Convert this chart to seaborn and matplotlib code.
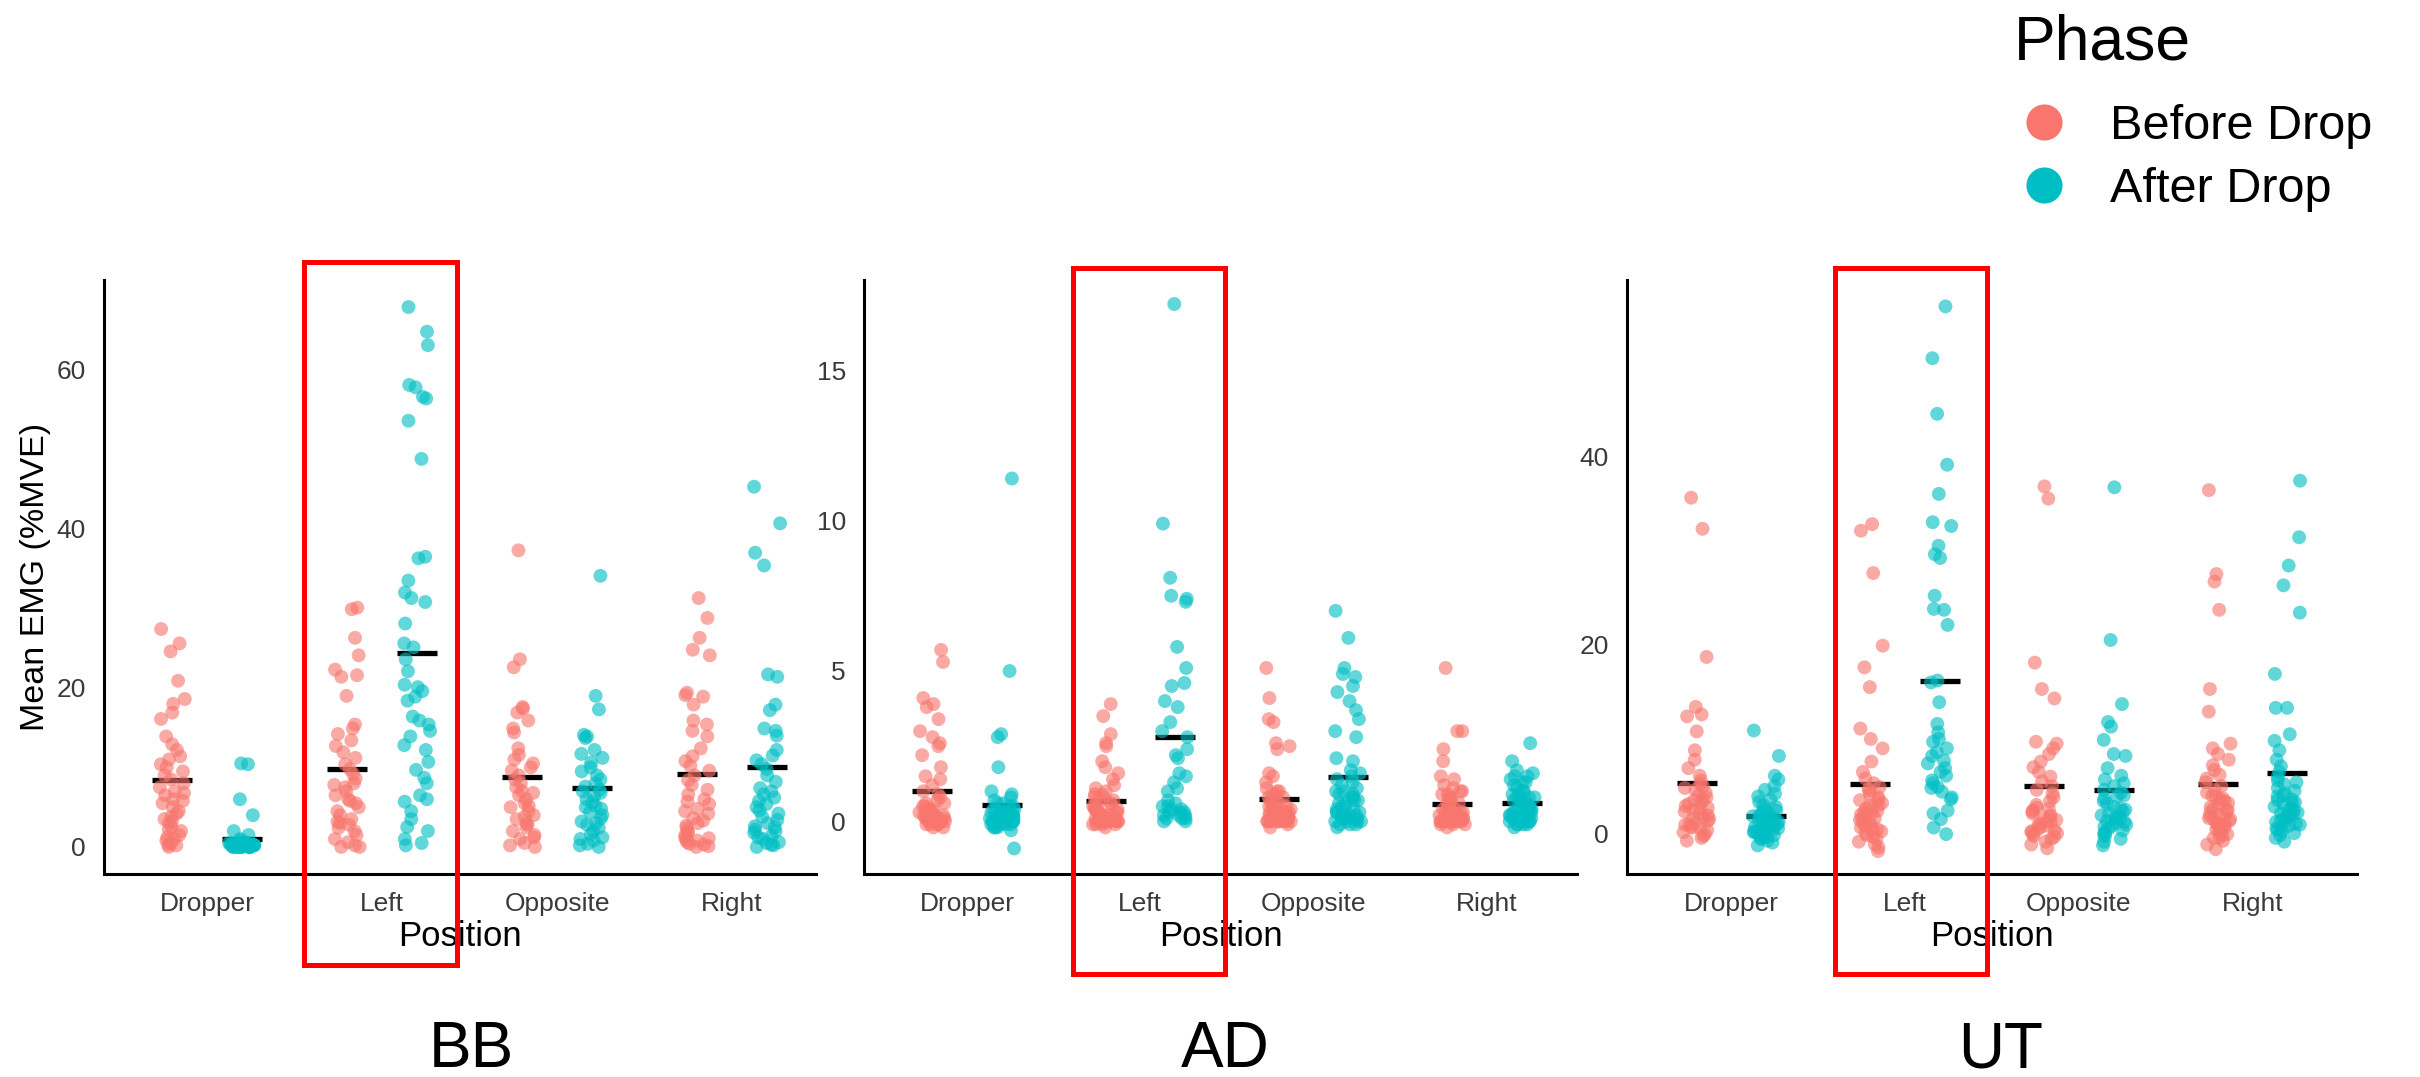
"""EMG strip plots per muscle, before / after the drop."""
import numpy as np
import pandas as pd
import seaborn as sns
import matplotlib.pyplot as plt
from matplotlib.lines import Line2D
from matplotlib.patches import Rectangle

POSITIONS = ["Dropper", "Left", "Opposite", "Right"]
PHASES = ["Before Drop", "After Drop"]
MUSCLES = ["BB", "AD", "UT"]
PHASE_COLORS = {"Before Drop": "#F8766D", "After Drop": "#00BFC4"}

# ---- BB ----
BB_DROPPER_BEFORE = [27.4, 25.6, 24.6, 20.9, 18.6, 18.0, 16.9, 16.1, 13.9, 12.9, 12.2, 11.4, 11.0, 10.4, 10.0,
                     9.5, 9.0, 8.5, 8.0, 7.5, 7.0, 6.8, 6.5, 6.0, 5.8, 5.5, 5.0, 4.5, 4.2, 3.8, 3.5, 3.2,
                     3.0, 2.5, 2.2, 2.0, 1.5, 1.2, 1.0, 0.8, 0.5, 0.3, 0.2, 0.0]
BB_DROPPER_AFTER = [10.5, 10.4, 6.0, 4.0, 2.0, 1.5, 1.0, 0.8, 0.6, 0.5, 0.45, 0.5, 0.4, 0.35, 0.4, 0.3, 0.25,
                    0.3, 0.3, 0.35, 0.2, 0.15, 0.2, 0.25, 0.2, 0.2, 0.1, 0.05, 0.1, 0.15, 0.1, 0.1, 0.12,
                    0.08, 0.0, 0.02, -0.02, 0.0, 0.03, -0.05, 0.0, 0.05, -0.03, 0.0]
BB_LEFT_BEFORE = [30.1, 29.9, 26.3, 24.1, 22.3, 21.6, 21.4, 19.0, 15.4, 14.9, 14.2, 13.4, 12.7, 11.9, 11.2,
                  10.4, 9.8, 9.2, 8.6, 8.0, 7.8, 7.5, 7.0, 6.5, 6.0, 5.8, 5.5, 5.0, 4.5, 4.0, 3.5, 3.2,
                  3.0, 2.8, 2.4, 2.0, 1.5, 1.0, 0.6, 0.2, 0.0, 0.0]
BB_LEFT_AFTER = [67.9, 64.8, 63.1, 58.1, 57.8, 56.6, 56.4, 53.6, 48.8, 36.5, 36.3, 33.5, 32.0, 31.3, 30.8,
                 28.1, 25.6, 25.1, 23.6, 22.1, 20.4, 20.1, 19.6, 18.9, 18.4, 16.4, 15.9, 15.4, 14.6, 13.9,
                 12.8, 12.2, 10.7, 9.7, 8.7, 8.0, 6.5, 6.0, 5.7, 4.5, 3.5, 2.5, 2.0, 1.0, 0.5, 0.2]
BB_OPPOSITE_BEFORE = [37.3, 23.6, 22.6, 17.6, 17.4, 16.9, 15.9, 14.9, 14.4, 12.4, 11.6, 11.0, 10.5, 10.0,
                      9.6, 9.0, 8.5, 8.0, 7.5, 7.0, 6.8, 6.5, 6.0, 5.5, 5.2, 5.0, 4.5, 4.0, 3.8, 3.5, 3.0,
                      2.8, 2.5, 2.0, 1.5, 1.2, 1.0, 0.5, 0.2, 0.0]
BB_OPPOSITE_AFTER = [34.1, 19.0, 17.3, 14.1, 13.9, 13.7, 12.2, 11.7, 11.2, 10.6, 10.0, 9.5, 9.0, 8.5, 8.0,
                     7.6, 7.2, 7.0, 6.8, 6.4, 6.0, 5.6, 5.2, 5.0, 4.8, 4.4, 4.0, 3.6, 3.2, 3.0, 2.8, 2.4,
                     2.0, 1.6, 1.2, 1.0, 0.8, 0.4, 0.2, 0.0]
BB_RIGHT_BEFORE = [31.3, 28.8, 26.3, 24.8, 24.1, 19.4, 19.1, 18.9, 17.9, 15.9, 15.4, 14.6, 13.9, 12.4, 11.4,
                   10.8, 10.2, 9.6, 9.0, 8.4, 7.8, 7.2, 6.6, 6.0, 5.7, 5.4, 4.8, 4.5, 4.2, 3.6, 3.3, 3.0,
                   2.7, 2.4, 2.0, 1.8, 1.5, 1.2, 1.1, 0.9, 0.8, 0.6, 0.4, 0.3, 0.1, 0.0]
BB_RIGHT_AFTER = [45.3, 40.7, 37.0, 35.4, 21.7, 21.4, 17.9, 17.2, 14.9, 14.6, 14.0, 12.2, 11.5, 10.9, 10.4,
                  9.8, 9.0, 8.2, 7.4, 7.0, 6.6, 6.2, 5.8, 5.4, 5.0, 4.6, 4.2, 3.8, 3.4, 3.0, 2.6, 2.5, 2.2,
                  2.0, 1.8, 1.4, 1.2, 1.0, 0.6, 0.5, 0.3, 0.2, 0.0]

# ---- AD ----
AD_DROPPER_BEFORE = [5.7, 5.3, 4.1, 3.9, 3.8, 3.4, 3.0, 2.8, 2.6, 2.5, 2.2, 1.8, 1.5, 1.4, 1.2, 1.0, 0.9, 0.8,
                     0.7, 0.6, 0.6, 0.5, 0.5, 0.4, 0.4, 0.4, 0.3, 0.3, 0.3, 0.3, 0.2, 0.2, 0.2, 0.2, 0.2,
                     0.1, 0.1, 0.1, 0.1, 0.1, 0.0, 0.0, 0.0, 0.0, 0.0, 0.0, -0.1, -0.1, -0.1, -0.1, -0.2,
                     -0.2, 0.1, 0.2]
AD_DROPPER_AFTER = [11.4, 5.0, 2.9, 2.8, 1.8, -0.9, 1.0, 0.9, 0.8, 0.7, 0.6, 0.6, 0.5, 0.5, 0.4, 0.4, 0.4,
                    0.3, 0.3, 0.3, 0.3, 0.2, 0.2, 0.2, 0.2, 0.2, 0.1, 0.1, 0.1, 0.1, 0.1, 0.1, 0.0, 0.0,
                    0.0, 0.0, 0.0, 0.0, 0.0, 0.0, 0.0, 0.0, 0.0, 0.0, 0.0, 0.0, -0.1, -0.1, -0.1, -0.1,
                    -0.1, -0.1, -0.2, -0.2, -0.2, -0.3]
AD_LEFT_BEFORE = [3.9, 3.5, 2.9, 2.6, 2.5, 2.0, 1.8, 1.6, 1.4, 1.2, 1.1, 1.0, 0.9, 0.9, 0.8, 0.8, 0.7, 0.7,
                  0.6, 0.6, 0.5, 0.5, 0.5, 0.4, 0.4, 0.4, 0.3, 0.3, 0.3, 0.3, 0.2, 0.2, 0.2, 0.2, 0.1, 0.1,
                  0.1, 0.1, 0.1, 0.0, 0.0, 0.0, 0.0, 0.0, 0.0, 0.0, 0.0, 0.0, 0.0, -0.1, -0.1, -0.1, -0.1,
                  -0.2]
AD_LEFT_AFTER = [17.2, 9.9, 8.1, 7.5, 7.4, 7.3, 5.8, 5.1, 4.6, 4.5, 4.0, 3.8, 3.3, 3.0, 2.8, 2.4, 2.2, 2.1,
                 1.6, 1.5, 1.3, 1.1, 1.0, 0.7, 0.6, 0.5, 0.5, 0.4, 0.4, 0.3, 0.3, 0.3, 0.2, 0.2, 0.2, 0.1,
                 0.1, 0.0, 0.0, 0.1]
AD_OPPOSITE_BEFORE = [5.1, 4.1, 3.4, 3.3, 2.6, 2.5, 2.4, 1.6, 1.5, 1.3, 1.1, 1.0, 1.0, 0.9, 0.9, 0.8, 0.8,
                      0.7, 0.7, 0.6, 0.6, 0.5, 0.5, 0.5, 0.4, 0.4, 0.4, 0.3, 0.3, 0.3, 0.3, 0.2, 0.2, 0.2,
                      0.2, 0.2, 0.2, 0.1, 0.1, 0.1, 0.1, 0.1, 0.1, 0.1, 0.1, 0.0, 0.0, 0.0, 0.0, 0.0, 0.0,
                      0.0, 0.0, 0.0, 0.0, -0.1, -0.2]
AD_OPPOSITE_AFTER = [7.0, 6.1, 5.1, 4.9, 4.8, 4.5, 4.3, 4.0, 3.7, 3.4, 3.0, 2.8, 2.1, 2.0, 1.7, 1.6, 1.5,
                     1.4, 1.3, 1.2, 1.1, 1.0, 1.0, 0.9, 0.9, 0.8, 0.8, 0.7, 0.7, 0.6, 0.6, 0.5, 0.5, 0.4,
                     0.4, 0.3, 0.3, 0.3, 0.2, 0.2, 0.2, 0.1, 0.1, 0.1, 0.0, 0.0, 0.0, 0.0, -0.1, -0.1,
                     -0.1, -0.2, 0.1, 0.2]
AD_RIGHT_BEFORE = [5.1, 3.0, 3.0, 2.4, 2.0, 1.5, 1.4, 1.2, 1.1, 1.0, 1.0, 0.9, 0.9, 0.8, 0.8, 0.7, 0.7, 0.6,
                   0.6, 0.5, 0.5, 0.4, 0.4, 0.4, 0.3, 0.3, 0.3, 0.2, 0.2, 0.2, 0.2, 0.2, 0.1, 0.1, 0.1,
                   0.1, 0.1, 0.1, 0.1, 0.1, 0.0, 0.0, 0.0, 0.0, 0.0, 0.0, 0.0, 0.0, 0.0, 0.0, 0.0, 0.0,
                   -0.1, -0.1, -0.1, -0.2]
AD_RIGHT_AFTER = [2.6, 2.0, 1.7, 1.6, 1.5, 1.5, 1.4, 1.3, 1.3, 1.2, 1.1, 1.0, 1.0, 0.9, 0.9, 0.8, 0.8, 0.8,
                  0.7, 0.7, 0.6, 0.6, 0.6, 0.5, 0.5, 0.5, 0.4, 0.4, 0.4, 0.3, 0.3, 0.3, 0.3, 0.2, 0.2, 0.2,
                  0.2, 0.1, 0.1, 0.1, 0.1, 0.0, 0.0, 0.0, 0.0, -0.1, -0.1, -0.1, 0.1, 0.2, 0.3, -0.1, -0.2]

# ---- UT ----
UT_DROPPER_BEFORE = [35.6, 32.3, 18.7, 13.4, 12.6, 12.4, 10.8, 8.8, 7.8, 6.9, 6.1, 5.6, 5.2, 5.0, 4.6, 4.3,
                     4.0, 3.8, 3.5, 3.3, 3.1, 2.9, 2.7, 2.5, 2.3, 2.1, 1.9, 1.7, 1.5, 1.3, 1.1, 1.0, 0.9,
                     0.7, 0.5, 0.3, 0.1, -0.1, -0.3, -0.5, -0.8, 4.8, 3.6, 2.6, 1.6, 0.6]
UT_DROPPER_AFTER = [10.9, 8.2, 6.1, 5.7, 5.0, 4.6, 4.2, 3.9, 3.6, 3.3, 3.0, 2.8, 2.6, 2.4, 2.2, 2.0, 1.9,
                    1.8, 1.6, 1.5, 1.4, 1.3, 1.2, 1.1, 1.0, 0.9, 0.8, 0.7, 0.6, 0.5, 0.4, 0.3, 0.2, 0.1,
                    0.0, -0.1, -0.2, -0.3, -0.4, -0.5, -0.6, -0.8, -1.0, -1.3, 2.3, 1.7, 0.5, 0.2, -0.2]
UT_LEFT_BEFORE = [32.8, 32.1, 27.6, 19.9, 17.6, 15.5, 11.1, 10.0, 9.0, 7.6, 6.5, 5.8, 5.3, 4.9, 4.5, 4.1,
                  3.8, 3.5, 3.2, 2.9, 2.6, 2.4, 2.2, 2.0, 1.8, 1.6, 1.4, 1.2, 1.0, 0.8, 0.6, 0.4, 0.2, 0.0,
                  -0.2, -0.4, -0.6, -0.9, -1.2, -1.5, -1.9, 4.7, 3.0, 2.1, 1.5, 0.9, 0.3, 2.7, 3.6]
UT_LEFT_AFTER = [55.9, 50.4, 44.5, 39.1, 36.0, 33.0, 32.6, 30.5, 29.6, 29.2, 25.2, 23.8, 23.7, 22.1, 16.2,
                 16.0, 13.9, 11.6, 10.7, 9.7, 9.0, 8.2, 7.4, 6.9, 6.1, 5.3, 4.8, 4.4, 3.6, 2.1, 1.5, 0.6,
                 -0.1, 10.0, 8.6, 7.7, 6.5, 5.6, 4.9, 3.8, 2.4]
UT_OPPOSITE_BEFORE = [36.8, 35.5, 18.1, 15.3, 14.3, 9.7, 9.5, 9.0, 8.4, 7.6, 7.0, 6.5, 6.0, 5.5, 5.0, 4.6,
                      4.2, 3.8, 3.4, 3.0, 2.7, 2.4, 2.1, 1.8, 1.5, 1.2, 0.9, 0.6, 0.3, 0.0, -0.3, -0.6,
                      -0.9, -1.2, -1.6, 0.5, 1.0, 1.4, 1.9, 2.3, 2.6, 0.2, -0.4, 0.8, 1.3, 0.1, -0.1]
UT_OPPOSITE_AFTER = [36.7, 20.5, 13.7, 11.8, 11.3, 9.9, 8.4, 8.2, 6.9, 6.1, 5.7, 5.3, 5.0, 4.6, 4.3, 4.0,
                     3.7, 3.4, 3.1, 2.8, 2.5, 2.3, 2.1, 1.9, 1.7, 1.5, 1.3, 1.1, 0.9, 0.7, 0.5, 0.3, 0.1,
                     -0.1, -0.3, -0.6, -0.9, -1.3, 3.9, 2.6, 1.6, 0.8, 1.2]
UT_RIGHT_BEFORE = [36.4, 27.5, 26.7, 23.7, 15.3, 12.9, 9.5, 9.0, 8.4, 7.8, 7.2, 6.7, 6.2, 5.8, 5.4, 5.0,
                   4.6, 4.3, 4.0, 3.7, 3.4, 3.1, 2.8, 2.5, 2.2, 1.9, 1.6, 1.3, 1.0, 0.7, 0.4, 0.1, -0.2,
                   -0.5, -0.8, -1.2, -1.7, 0.6, 1.1, 1.5, 2.0, 2.6, 3.2, 3.9, 0.9, 0.3, -0.1, 1.8, 2.4,
                   3.6, 1.4, -0.5]
UT_RIGHT_AFTER = [37.4, 31.4, 28.4, 26.3, 23.4, 16.9, 13.3, 13.3, 10.5, 9.8, 8.8, 7.8, 7.1, 6.5, 6.0, 5.6,
                  5.2, 4.8, 4.5, 4.2, 3.9, 3.6, 3.3, 3.0, 2.8, 2.6, 2.4, 2.2, 2.0, 1.8, 1.6, 1.4, 1.2, 1.0,
                  0.8, 0.6, 0.4, 0.2, 0.0, -0.2, -0.5, -0.9, 4.0, 3.2, 2.5, 1.7, 0.9, 5.4, 3.5, 2.1, 1.3,
                  0.5]

Y_TICKS = {"BB": [0, 20, 40, 60], "AD": [0, 5, 10, 15], "UT": [0, 20, 40]}
Y_LIMITS = {"BB": (-3.4, 71.3), "AD": (-1.75, 18.0), "UT": (-4.33, 58.7)}
X_LIMITS = {"BB": (-0.59, 3.48), "AD": (-0.594, 3.52), "UT": (-0.6, 3.6)}

# gather into one long table
groups = {
    ("BB", "Dropper", "Before Drop"): BB_DROPPER_BEFORE, ("BB", "Dropper", "After Drop"): BB_DROPPER_AFTER,
    ("BB", "Left", "Before Drop"): BB_LEFT_BEFORE, ("BB", "Left", "After Drop"): BB_LEFT_AFTER,
    ("BB", "Opposite", "Before Drop"): BB_OPPOSITE_BEFORE, ("BB", "Opposite", "After Drop"): BB_OPPOSITE_AFTER,
    ("BB", "Right", "Before Drop"): BB_RIGHT_BEFORE, ("BB", "Right", "After Drop"): BB_RIGHT_AFTER,
    ("AD", "Dropper", "Before Drop"): AD_DROPPER_BEFORE, ("AD", "Dropper", "After Drop"): AD_DROPPER_AFTER,
    ("AD", "Left", "Before Drop"): AD_LEFT_BEFORE, ("AD", "Left", "After Drop"): AD_LEFT_AFTER,
    ("AD", "Opposite", "Before Drop"): AD_OPPOSITE_BEFORE, ("AD", "Opposite", "After Drop"): AD_OPPOSITE_AFTER,
    ("AD", "Right", "Before Drop"): AD_RIGHT_BEFORE, ("AD", "Right", "After Drop"): AD_RIGHT_AFTER,
    ("UT", "Dropper", "Before Drop"): UT_DROPPER_BEFORE, ("UT", "Dropper", "After Drop"): UT_DROPPER_AFTER,
    ("UT", "Left", "Before Drop"): UT_LEFT_BEFORE, ("UT", "Left", "After Drop"): UT_LEFT_AFTER,
    ("UT", "Opposite", "Before Drop"): UT_OPPOSITE_BEFORE, ("UT", "Opposite", "After Drop"): UT_OPPOSITE_AFTER,
    ("UT", "Right", "Before Drop"): UT_RIGHT_BEFORE, ("UT", "Right", "After Drop"): UT_RIGHT_AFTER,
}
rows = []
for (muscle, pos, phase), vals in groups.items():
    rows.extend({"Muscle": muscle, "Position": pos, "Phase": phase, "EMG": v} for v in vals)
df = pd.DataFrame(rows)

sns.set_style("white")
plt.rcParams["font.family"] = ["Liberation Sans", "DejaVu Sans"]
plt.rcParams["text.color"] = "black"
plt.rcParams["axes.labelcolor"] = "black"
np.random.seed(7)

W, H = 2420, 1077
fig = plt.figure(figsize=(W / 100, H / 100), dpi=100)


def px_box(left, right, top, bottom):
    return [left / W, 1 - bottom / H, (right - left) / W, (bottom - top) / H]


AX_BOXES = {"BB": px_box(104, 816, 280, 874),
            "AD": px_box(864, 1577, 280, 874),
            "UT": px_box(1627, 2357, 280, 874)}

for muscle in MUSCLES:
    ax = fig.add_axes(AX_BOXES[muscle])
    sub = df[df["Muscle"] == muscle]
    sns.stripplot(data=sub, x="Position", y="EMG", hue="Phase", order=POSITIONS,
                  hue_order=PHASES, palette=PHASE_COLORS, dodge=True, jitter=0.15,
                  size=10, alpha=0.62, linewidth=0, legend=False, ax=ax)
    sns.pointplot(data=sub, x="Position", y="EMG", hue="Phase", order=POSITIONS,
                  hue_order=PHASES, palette={p: "black" for p in PHASES},
                  estimator="mean", errorbar=None, dodge=0.4, markers="_",
                  linestyles="none", markersize=29, markeredgewidth=3.8,
                  legend=False, ax=ax)
    ax.set_xlim(*X_LIMITS[muscle])
    ax.set_ylim(*Y_LIMITS[muscle])
    ax.set_yticks(Y_TICKS[muscle])
    sns.despine(ax=ax)
    for side in ["left", "bottom"]:
        ax.spines[side].set_linewidth(2.2)
        ax.spines[side].set_color("black")
    ax.tick_params(axis="both", length=6, width=1.6, color="black", pad=7,
                   labelsize=19, labelcolor="#3a3a3a")
    ax.set_xlabel("Position", fontsize=25, color="black", labelpad=3)
    if muscle == "BB":
        ax.set_ylabel("Mean EMG (%MVE)", fontsize=24.5, color="black", labelpad=4)
    else:
        ax.set_ylabel("")

# red boxes around the "Left" columns
for x0, x1, y0, y1 in [(304, 457, 262, 965), (1073, 1225, 268, 974), (1835, 1987, 268, 974)]:
    fig.add_artist(Rectangle((x0 / W, 1 - y1 / H), (x1 - x0) / W, (y1 - y0) / H,
                             transform=fig.transFigure, fill=False,
                             edgecolor="#FF0000", linewidth=3.6, zorder=5))

# muscle names under each panel
for name, xc in zip(MUSCLES, [471, 1225, 2001]):
    fig.text(xc / W, 10 / H, name, ha="center", va="baseline", fontsize=46, color="black")

# legend
fig.text(2014 / W, 1 - 59 / H, "Phase", ha="left", va="baseline", fontsize=45, color="black")
handles = [Line2D([], [], marker="o", linestyle="", markersize=26,
                  markerfacecolor=PHASE_COLORS[p], markeredgewidth=0) for p in PHASES]
leg = fig.legend(handles, PHASES, loc="upper left", bbox_to_anchor=(2014 / W, 1 - 104 / H),
                 frameon=False, fontsize=35, borderpad=0, borderaxespad=0,
                 handlelength=1.23, handletextpad=0.75, labelspacing=0.37)
for t in leg.get_texts():
    t.set_color("black")

fig.savefig("out.png", dpi=100)
